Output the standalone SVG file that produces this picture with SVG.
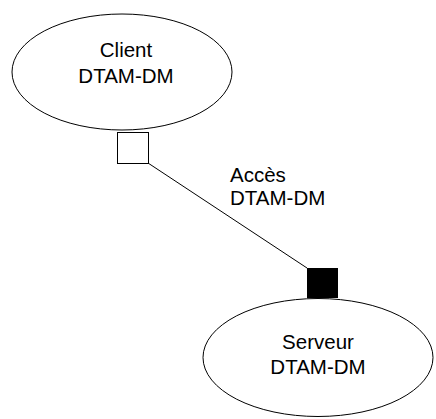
<svg xmlns="http://www.w3.org/2000/svg" width="436" height="419" viewBox="0 0 436 419">
<style>
.n{fill:#fff;stroke:#000;stroke-width:1}
.t{font-family:"Liberation Sans",Arial,sans-serif;font-size:20.5px;fill:#000}
.c{text-anchor:middle}
</style>
<rect width="436" height="419" fill="#fff"/>
<g id="connectors">
<line x1="148" y1="163" x2="307" y2="268" stroke="#000" stroke-width="1"/>
</g>
<g id="client">
<ellipse class="n" cx="122" cy="72" rx="110" ry="58"/>
<text class="t c" x="126" y="57">Client</text>
<text class="t c" x="126" y="82.5">DTAM-DM</text>
</g>
<g id="port-client">
<rect class="n" x="117.5" y="132.5" width="31" height="31"/>
</g>
<g id="label">
<text class="t" x="230" y="182">Accès</text>
<text class="t" x="230" y="205">DTAM-DM</text>
</g>
<g id="port-serveur">
<rect x="307" y="268" width="31" height="30" fill="#000"/>
</g>
<g id="serveur">
<ellipse class="n" cx="318" cy="357.5" rx="115" ry="59"/>
<text class="t c" x="318" y="349">Serveur</text>
<text class="t c" x="318" y="374">DTAM-DM</text>
</g>
</svg>
